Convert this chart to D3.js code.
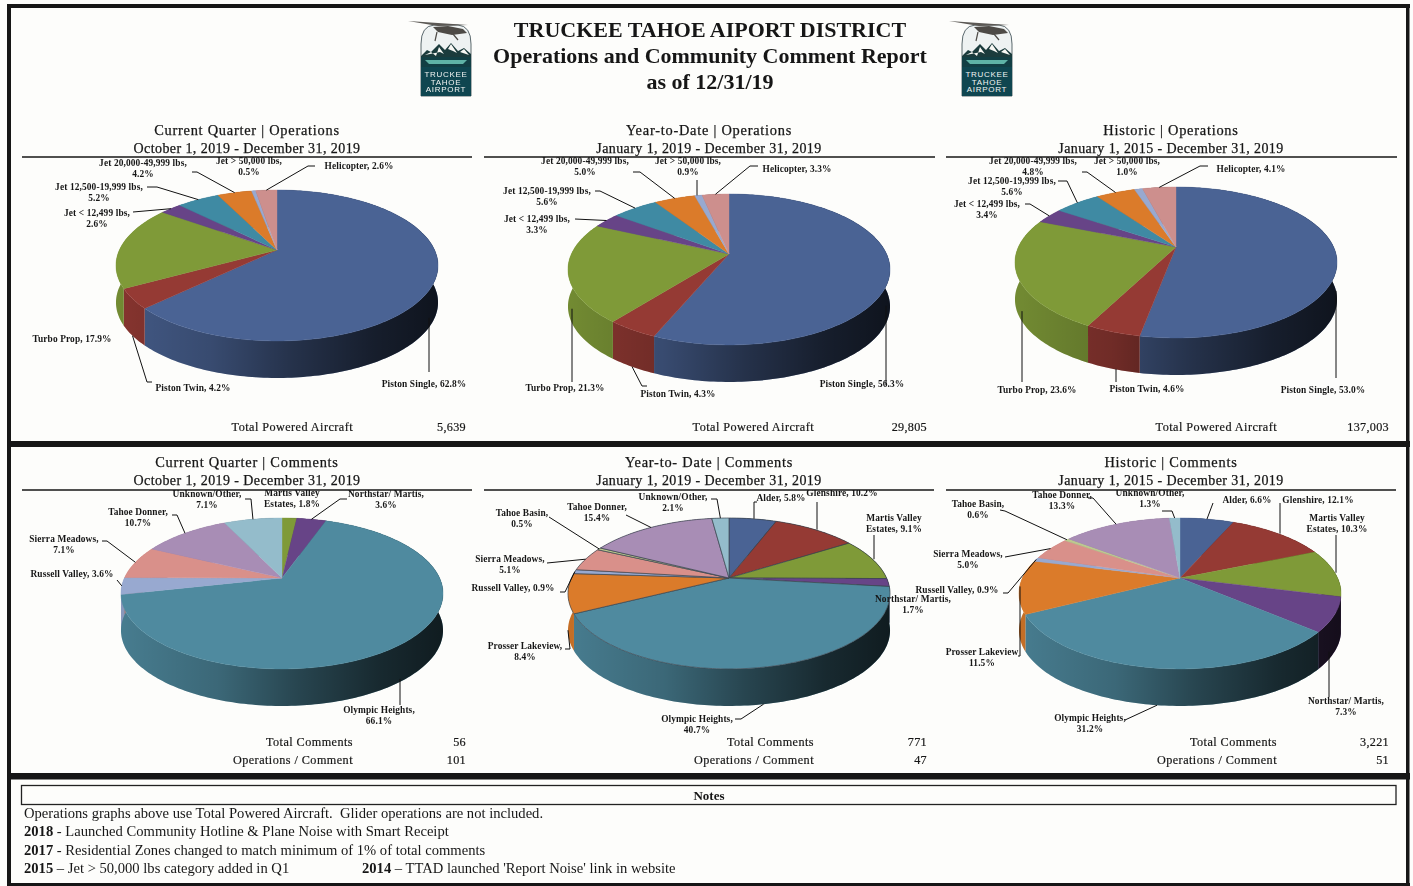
<!DOCTYPE html>
<html>
<head>
<meta charset="utf-8">
<script src="https://cdn.jsdelivr.net/npm/d3@7"></script>
<style>
html, body { margin: 0; padding: 0; background: #fdfdfb; }
svg { display: block; filter: blur(0.45px); }
text { font-family: "Liberation Serif", serif; fill: #161616; }
</style>
</head>
<body>
<svg width="1413" height="886"></svg>
<script>
// chart values
const opsCategories = ['Piston Single', 'Piston Twin', 'Turbo Prop', 'Jet < 12,499 lbs', 'Jet 12,500-19,999 lbs', 'Jet 20,000-49,999 lbs', 'Jet > 50,000 lbs', 'Helicopter'];
const opsQuarter = [62.8, 4.2, 17.9, 2.6, 5.2, 4.2, 0.5, 2.6];
const opsYear = [56.3, 4.3, 21.3, 3.3, 5.6, 5.0, 0.9, 3.3];
const opsHistoric = [53.0, 4.6, 23.6, 3.4, 5.6, 4.8, 1.0, 4.1];

const commentCategories = ['Alder', 'Glenshire', 'Martis Valley Estates', 'Northstar/ Martis', 'Olympic Heights', 'Prosser Lakeview', 'Russell Valley', 'Sierra Meadows', 'Tahoe Basin', 'Tahoe Donner', 'Unknown/Other'];
const commentsQuarter = [0, 0, 1.8, 3.6, 66.1, 0, 3.6, 7.1, 0, 10.7, 7.1];
const commentsYear = [5.8, 10.2, 9.1, 1.7, 40.7, 8.4, 0.9, 5.1, 0.5, 15.4, 2.1];
const commentsHistoric = [6.6, 12.1, 10.3, 7.3, 31.2, 11.5, 0.9, 5.0, 0.6, 13.3, 1.3];

const opsTotals = ['5,639', '29,805', '137,003'];
const commentTotals = ['56', '771', '3,221'];
const opsPerComment = ['101', '47', '51'];

const titleLines = ['TRUCKEE TAHOE AIPORT DISTRICT', 'Operations and Community Comment Report', 'as of 12/31/19'];
const notes = [
    [['', 'Operations graphs above use Total Powered Aircraft.  Glider operations are not included.']],
    [['2018', ' - Launched Community Hotline & Plane Noise with Smart Receipt']],
    [['2017', ' - Residential Zones changed to match minimum of 1% of total comments']],
    [['2015', ' \u2013 Jet > 50,000 lbs category added in Q1'], ['2014', ' \u2013 TTAD launched \'Report Noise\' link in website']]
];

const opsColors = ['#4a6394', '#953a34', '#7f9a38', '#674487', '#3f8aa3', '#db7b2a', '#98a9d0', '#cd8f8d'];
const commentColors = ['#4a6394', '#953a34', '#7f9a38', '#674487', '#4f8a9f', '#db7b2a', '#98a9d0', '#d9908a', '#bcc98f', '#a88db5', '#94bccb'];

// the same perspective is used for every pie
const R = 157.6, tilt = 72.3, persp = 0.205, depth = 37;

const svg = d3.select('svg');
const defs = svg.append('defs');

// unit disc -> screen, angle is clockwise from 12 o'clock
function project(p, a) {
    const u = Math.sin(a), v = -Math.cos(a), s = 1 / (1 - persp * v);
    return [p.cx + R * u * s, p.cy + tilt * v * s];
}

const line = d3.line();

function arcPoints(p, a0, a1) {
    const n = Math.max(2, Math.ceil((a1 - a0) / 0.02));
    return d3.range(n + 1).map(i => project(p, a0 + (a1 - a0) * i / n));
}

function drawPie(p, idx) {
    const g = svg.append('g').attr('class', 'pie');
    const arcs = d3.pie().sort(null).value(d => d)(p.values);

    const grad = defs.append('linearGradient').attr('id', 'shade' + idx)
        .attr('gradientUnits', 'userSpaceOnUse')
        .attr('x1', p.cx - R * 1.02).attr('x2', p.cx + R * 1.02).attr('y1', 0).attr('y2', 0);
    [[0, 0.1], [0.3, 0.25], [0.55, 0.5], [0.8, 0.7], [1, 0.8]].forEach(s => {
        grad.append('stop').attr('offset', s[0]).attr('stop-color', '#000').attr('stop-opacity', s[1]);
    });

    // side walls first, the top faces cover the back part
    arcs.filter(d => d.value > 0).forEach(d => {
        const pts = arcPoints(p, d.startAngle, d.endAngle);
        const wall = pts.concat(pts.slice().reverse().map(q => [q[0], q[1] + depth]));
        g.append('path').attr('d', line(wall) + 'Z').attr('fill', p.colors[d.index]);
        g.append('path').attr('d', line(wall) + 'Z').attr('fill', `url(#shade${idx})`);
    });
    arcs.filter(d => d.value > 0).forEach(d => {
        const pts = [[p.cx, p.cy]].concat(arcPoints(p, d.startAngle, d.endAngle));
        g.append('path').attr('d', line(pts) + 'Z')
            .attr('fill', p.colors[d.index])
            .attr('stroke', p.outline ? '#3c4650' : p.colors[d.index])
            .attr('stroke-width', p.outline ? 0.7 : 0.4);
    });

    // callouts, leader ends on the rim at the middle of the slice
    p.labels.forEach(l => {
        const i = p.categories.indexOf(l.c);
        const full = `${l.c}${l.nc ? '' : ','} ${p.values[i].toFixed(1)}%`;
        if (l.leader) {
            const mid = (arcs[i].startAngle + arcs[i].endAngle) / 2;
            const end = project(p, mid);
            if (l.wall) end[1] += depth;
            if (l.vert) end[0] = l.leader[l.leader.length - 1][0];
            g.append('path').attr('d', line(l.leader.concat([end])))
                .attr('fill', 'none').attr('stroke', '#111').attr('stroke-width', 1);
        }
        let rows = [full];
        if (l.br) {
            const at = full.lastIndexOf(l.br) + l.br.length;
            rows = [full.slice(0, at).trim(), full.slice(at)];
        }
        rows.forEach((r, k) => {
            g.append('text').attr('x', l.x).attr('y', l.y + k * 11.3)
                .attr('text-anchor', 'middle')
                .attr('font-size', 9.4).attr('font-weight', 'bold')
                .attr('letter-spacing', 0.12)
                .text(r);
        });
    });
}

const pies = [
    { cx: 277, cy: 250, values: opsQuarter, categories: opsCategories, colors: opsColors, labels: [
        { c: 'Piston Single', x: 424, y: 387, wall: 1, vert: 1, leader: [[429, 372]] },
        { c: 'Piston Twin', x: 193, y: 391, wall: 1, leader: [[152, 382], [147, 382]] },
        { c: 'Turbo Prop', x: 72, y: 342 },
        { c: 'Jet < 12,499 lbs', x: 97, y: 216, br: ', ', leader: [[133, 212]] },
        { c: 'Jet 12,500-19,999 lbs', x: 99, y: 190, br: ', ', leader: [[147, 187], [157, 187]] },
        { c: 'Jet 20,000-49,999 lbs', x: 143, y: 166, br: ', ', leader: [[192, 172], [197, 172]] },
        { c: 'Jet > 50,000 lbs', x: 249, y: 164, br: ', ' },
        { c: 'Helicopter', x: 359, y: 169, leader: [[315, 166], [308, 166]] }
    ] },
    { cx: 729, cy: 254, values: opsYear, categories: opsCategories, colors: opsColors, labels: [
        { c: 'Piston Single', x: 862, y: 387, wall: 1, vert: 1, leader: [[886, 385]] },
        { c: 'Piston Twin', x: 678, y: 397, wall: 1, leader: [[647, 386], [642, 386]] },
        { c: 'Turbo Prop', x: 565, y: 391, wall: 1, vert: 1, leader: [[572, 382]] },
        { c: 'Jet < 12,499 lbs', x: 537, y: 222, br: ', ', leader: [[575, 219]] },
        { c: 'Jet 12,500-19,999 lbs', x: 547, y: 194, br: ', ', leader: [[595, 191], [600, 191]] },
        { c: 'Jet 20,000-49,999 lbs', x: 585, y: 164, br: ', ', leader: [[633, 172], [640, 172]] },
        { c: 'Jet > 50,000 lbs', x: 688, y: 164, br: ', ', vert: 1, leader: [[697, 180]] },
        { c: 'Helicopter', x: 797, y: 172, leader: [[758, 166], [750, 166]] }
    ] },
    { cx: 1176, cy: 247, values: opsHistoric, categories: opsCategories, colors: opsColors, labels: [
        { c: 'Piston Single', x: 1323, y: 393, wall: 1, vert: 1, leader: [[1336, 378]] },
        { c: 'Piston Twin', x: 1147, y: 392, wall: 1, vert: 1, leader: [[1116, 382]] },
        { c: 'Turbo Prop', x: 1037, y: 393, wall: 1, vert: 1, leader: [[1022, 382]] },
        { c: 'Jet < 12,499 lbs', x: 987, y: 207, br: ', ', leader: [[1025, 204], [1030, 204]] },
        { c: 'Jet 12,500-19,999 lbs', x: 1012, y: 184, br: ', ', leader: [[1058, 181], [1067, 181]] },
        { c: 'Jet 20,000-49,999 lbs', x: 1033, y: 164, br: ', ', leader: [[1082, 172], [1087, 172]] },
        { c: 'Jet > 50,000 lbs', x: 1127, y: 164, br: ', ' },
        { c: 'Helicopter', x: 1251, y: 172, leader: [[1208, 166], [1200, 166]] }
    ] },
    { cx: 282, cy: 578, values: commentsQuarter, categories: commentCategories, colors: commentColors, labels: [
        { c: 'Unknown/Other', x: 207, y: 497, br: ', ', leader: [[245, 499], [251, 499]] },
        { c: 'Martis Valley Estates', x: 292, y: 496, br: 'Valley ' },
        { c: 'Northstar/ Martis', x: 386, y: 497, br: ', ', leader: [[347, 499], [340, 499]] },
        { c: 'Olympic Heights', x: 379, y: 713, br: ', ', wall: 1, vert: 1, leader: [[400, 705]] },
        { c: 'Russell Valley', x: 72, y: 577, leader: [[117, 580]] },
        { c: 'Sierra Meadows', x: 64, y: 542, br: ', ', leader: [[102, 541], [107, 541]] },
        { c: 'Tahoe Donner', x: 138, y: 515, br: ', ', leader: [[172, 515], [177, 515]] }
    ] },
    { cx: 729, cy: 578, outline: true, values: commentsYear, categories: commentCategories, colors: commentColors, labels: [
        { c: 'Alder', x: 781, y: 501, vert: 1, leader: [[757, 502], [754, 502]] },
        { c: 'Glenshire', x: 842, y: 496, vert: 1, leader: [[817, 502]] },
        { c: 'Martis Valley Estates', x: 894, y: 521, br: 'Valley ', vert: 1, leader: [[874, 535]] },
        { c: 'Northstar/ Martis', x: 913, y: 602, br: ', ' },
        { c: 'Olympic Heights', x: 697, y: 722, br: ', ', wall: 1, leader: [[735, 719], [741, 719]] },
        { c: 'Prosser Lakeview', x: 525, y: 649, br: ', ', wall: 1, leader: [[565, 649], [570, 649]] },
        { c: 'Russell Valley', x: 513, y: 591, leader: [[560, 592], [565, 592]] },
        { c: 'Sierra Meadows', x: 510, y: 562, br: ', ', leader: [[547, 563]] },
        { c: 'Tahoe Basin', x: 522, y: 516, br: ', ', leader: [[549, 517]] },
        { c: 'Tahoe Donner', x: 597, y: 510, br: ', ', leader: [[626, 515]] },
        { c: 'Unknown/Other', x: 673, y: 500, br: ', ', leader: [[711, 499], [717, 499]] }
    ] },
    { cx: 1180, cy: 578, values: commentsHistoric, categories: commentCategories, colors: commentColors, labels: [
        { c: 'Alder', x: 1247, y: 503, leader: [[1213, 503]] },
        { c: 'Glenshire', x: 1318, y: 503, vert: 1, leader: [[1280, 503]] },
        { c: 'Martis Valley Estates', x: 1337, y: 521, br: 'Valley ', vert: 1, leader: [[1336, 535]] },
        { c: 'Northstar/ Martis', x: 1346, y: 704, br: ', ', wall: 1, vert: 1, leader: [[1329, 697]] },
        { c: 'Olympic Heights', x: 1090, y: 721, br: ', ', wall: 1, leader: [[1125, 720]] },
        { c: 'Prosser Lakeview', x: 982, y: 655, br: ' ', nc: true, vert: 1, leader: [[1018, 656], [1020, 656]] },
        { c: 'Russell Valley', x: 957, y: 593, leader: [[1003, 593], [1008, 593]] },
        { c: 'Sierra Meadows', x: 968, y: 557, br: ', ', leader: [[1005, 557]] },
        { c: 'Tahoe Basin', x: 978, y: 507, br: ', ', leader: [[1000, 510], [1005, 511]] },
        { c: 'Tahoe Donner', x: 1062, y: 498, br: ', ', leader: [[1088, 498], [1093, 498]] },
        { c: 'Unknown/Other', x: 1150, y: 496, br: ', ', leader: [[1162, 511], [1172, 511]] }
    ] }
];

pies.forEach(drawPie);

// white strips clip the callouts that run up into the headers
[[12, 118, 1394, 39], [12, 448, 1394, 42]].forEach(r => {
    svg.append('rect').attr('x', r[0]).attr('y', r[1]).attr('width', r[2]).attr('height', r[3]).attr('fill', '#fdfdfb');
});

const headers = [
    { x: 247, y: 135, rule: [22, 472, 157], a: 'Current Quarter | Operations', b: 'October 1, 2019 - December 31, 2019' },
    { x: 709, y: 135, rule: [484, 935, 157], a: 'Year-to-Date | Operations', b: 'January 1, 2019 - December 31, 2019' },
    { x: 1171, y: 135, rule: [946, 1397, 157], a: 'Historic | Operations', b: 'January 1, 2015 - December 31, 2019' },
    { x: 247, y: 467, rule: [22, 472, 490], a: 'Current Quarter | Comments', b: 'October 1, 2019 - December 31, 2019' },
    { x: 709, y: 467, rule: [484, 934, 490], a: 'Year-to- Date | Comments', b: 'January 1, 2019 - December 31, 2019' },
    { x: 1171, y: 467, rule: [946, 1396, 490], a: 'Historic | Comments', b: 'January 1, 2015 - December 31, 2019' }
];
headers.forEach(h => {
    svg.append('text').attr('x', h.x).attr('y', h.y).attr('text-anchor', 'middle')
        .attr('font-size', 14.4).attr('letter-spacing', 0.75).attr('stroke', '#161616').attr('stroke-width', 0.25).text(h.a);
    svg.append('text').attr('x', h.x).attr('y', h.y + 18).attr('text-anchor', 'middle')
        .attr('font-size', 14).attr('letter-spacing', 0.42).attr('stroke', '#161616').attr('stroke-width', 0.25).text(h.b);
    svg.append('line').attr('x1', h.rule[0]).attr('x2', h.rule[1]).attr('y1', h.rule[2]).attr('y2', h.rule[2])
        .attr('stroke', '#161616').attr('stroke-width', 1.6);
});

// totals under the pies
const totalCols = [{ l: 353, v: 466 }, { l: 814, v: 927 }, { l: 1277, v: 1389 }];
function totalRow(y, name, vals) {
    totalCols.forEach((c, i) => {
        svg.append('text').attr('x', c.l).attr('y', y).attr('text-anchor', 'end')
            .attr('font-size', 12.2).attr('letter-spacing', 0.45).attr('stroke', '#161616').attr('stroke-width', 0.2).text(name);
        svg.append('text').attr('x', c.v).attr('y', y).attr('text-anchor', 'end')
            .attr('font-size', 12.2).attr('letter-spacing', 0.3).attr('stroke', '#161616').attr('stroke-width', 0.2).text(vals[i]);
    });
}
totalRow(431, 'Total Powered Aircraft', opsTotals);
totalRow(746, 'Total Comments', commentTotals);
totalRow(764, 'Operations / Comment', opsPerComment);

// main title
titleLines.forEach((t, i) => {
    svg.append('text').attr('x', 710).attr('y', 37 + i * 26).attr('text-anchor', 'middle')
        .attr('font-size', 22).attr('font-weight', 'bold').text(t);
});

// logo, drawn twice
function drawLogo(dx) {
    const g = svg.append('g').attr('transform', `translate(${dx},0)`);
    g.append('path').attr('d', 'M421,44Q421,26 434,25H458Q471,26 471,44V96H421Z').attr('fill', '#eef2f2').attr('stroke', '#33444a').attr('stroke-width', 0.8);
    g.append('path').attr('d', 'M421,68V56L427,50L431,52L439,44L445,50L451,43L458,51L464,48L471,54V68Z').attr('fill', '#1b3b3c');
    g.append('path').attr('d', 'M425,55L431,52L436,56L439,47L444,54L440,52ZM448,49L451,44L457,53L453,51ZM460,52L464,49L469,55Z').attr('fill', '#f8f8f4');
    g.append('rect').attr('x', 421).attr('y', 57).attr('width', 50).attr('height', 11).attr('fill', '#123f44');
    g.append('path').attr('d', 'M425,60H467L463,64H429Z').attr('fill', '#5fb3a6');
    g.append('rect').attr('x', 421).attr('y', 67).attr('width', 50).attr('height', 29).attr('fill', '#0f4650');
    g.append('path').attr('d', 'M433,27L448,26L463,29L467,33L452,35L438,32Z').attr('fill', '#4d4a46');
    g.append('path').attr('d', 'M437,32L435,41M453,34L458,40').attr('stroke', '#4d4a46').attr('stroke-width', 1.2).attr('fill', 'none');
    g.append('path').attr('d', 'M408,21L438,23L468,25L438,26Z').attr('fill', '#5b5854');
    ['TRUCKEE', 'TAHOE', 'AIRPORT'].forEach((t, i) => {
        g.append('text').attr('x', 446).attr('y', 77 + i * 7.5).attr('text-anchor', 'middle')
            .attr('font-size', 8).attr('letter-spacing', 0.7)
            .style('font-family', '"Liberation Sans", sans-serif').style('fill', '#f2f4f2').text(t);
    });
}
drawLogo(0);
drawLogo(541);

// frame and notes box
const frameBars = [[7, 4, 1403, 4], [7, 4, 4, 882], [1406, 4, 3.5, 882], [7, 883, 1403, 3], [7, 441, 1403, 6], [7, 773, 1403, 6.5]];
frameBars.forEach(b => {
    svg.append('rect').attr('x', b[0]).attr('y', b[1]).attr('width', b[2]).attr('height', b[3]).attr('fill', '#161616');
});
svg.append('rect').attr('x', 21.5).attr('y', 785.5).attr('width', 1374.5).attr('height', 19)
    .attr('fill', 'none').attr('stroke', '#222').attr('stroke-width', 1.3);
svg.append('text').attr('x', 709).attr('y', 800).attr('text-anchor', 'middle')
    .attr('font-size', 13).attr('font-weight', 'bold').text('Notes');

const noteCols = [24, 362];
notes.forEach((row, r) => {
    row.forEach((part, c) => {
        const t = svg.append('text').attr('x', noteCols[c]).attr('y', 818 + r * 18.4)
            .attr('font-size', 14.6).attr('xml:space', 'preserve').style('white-space', 'pre');
        if (part[0]) t.append('tspan').attr('font-weight', 'bold').text(part[0]);
        t.append('tspan').text(part[1]);
    });
});
</script>
</body>
</html>
